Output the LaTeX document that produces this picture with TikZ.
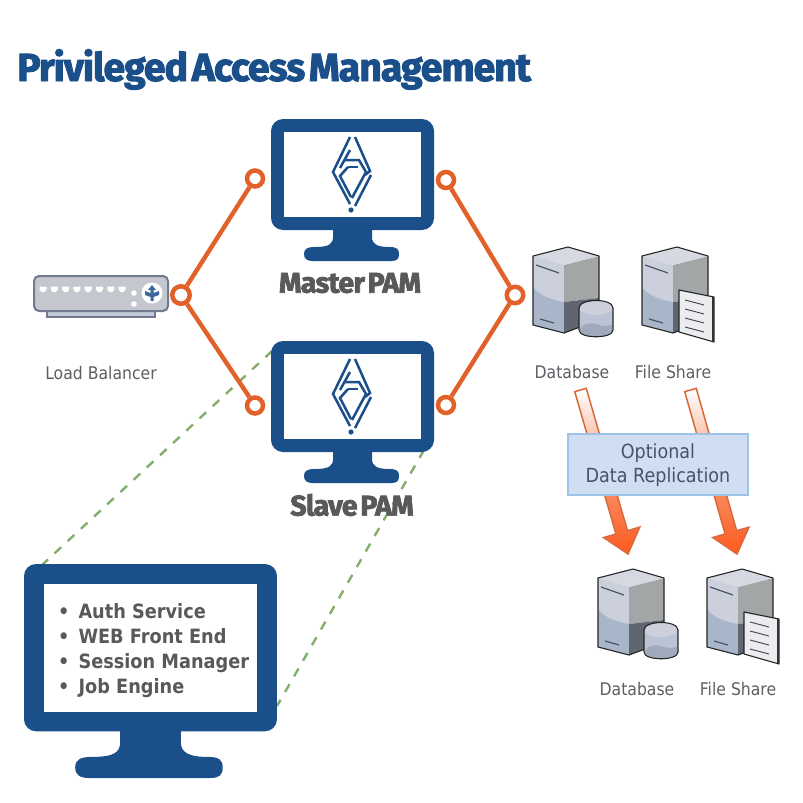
\documentclass[tikz,border=0pt]{standalone}
\usepackage{fontspec}
\usetikzlibrary{calc}
\setmainfont{DejaVu Sans}[FakeStretch=0.9]
\newfontfamily\headfont[FakeBold=2.4,LetterSpace=-2.5,WordSpace=0.45]{Fira Sans Bold}
\newfontfamily\listfont[FakeStretch=0.9]{DejaVu Sans Bold}
\definecolor{pamblue}{HTML}{1A4F8A}
\definecolor{pamorange}{HTML}{E2602A}
\definecolor{pamgreen}{HTML}{83AE6C}
\definecolor{pamgrey}{HTML}{58595B}
\definecolor{lblgrey}{HTML}{5C5F63}
\definecolor{boxfill}{HTML}{D0DEF2}
\definecolor{boxedge}{HTML}{9DC3E6}
\definecolor{boxtext}{HTML}{44546A}
\definecolor{arrowedge}{HTML}{D9683C}
\definecolor{arrowmid}{HTML}{F79A74}
\definecolor{arrowend}{HTML}{FF5A1E}
\tikzset{
  hub/.style={circle,draw=pamorange,fill=white,line width=4.5pt,inner sep=0pt,minimum size=#1},
  link/.style={draw=pamorange,line width=4.4pt},
  zoomline/.style={draw=pamgreen,line width=2.4pt,dash pattern=on 9pt off 9pt},
  lbl/.style={font=\fontsize{17.4}{19}\selectfont,text=lblgrey,inner sep=0pt},
  pamlbl/.style={font=\fontsize{28.6}{30}\headfont,text=pamgrey,inner sep=0pt},
  srvline/.style={line width=1.2pt,draw=#1},
  srvedge/.style={draw=black!85,line width=1.1pt,line join=round},
  logoline/.style={draw=pamblue,line width=2.5pt,line join=miter},
  replarrow/.style={draw=arrowedge,line width=1.5pt,line join=miter,top color=white,bottom color=arrowend,middle color=arrowmid},
}
\newcommand{\pammonitor}[4]{%
  \begin{scope}[shift={(#1,#2)},xscale=#3,yscale=#4]
    \fill[pamblue,rounded corners=12pt] (0,0) rectangle (163,111);
    \fill[pamblue] (62,108) -- (62,118) .. controls (62,125) and (58,128) .. (44,128)
      .. controls (36,128) and (33,130) .. (33,135) .. controls (33,140) and (36,142) .. (42,142)
      -- (120,142) .. controls (126,142) and (128,140) .. (128,135) .. controls (128,130) and (126,128) .. (118,128)
      .. controls (106,128) and (101,125) .. (101,118) -- (101,108) -- cycle;
    \fill[white] (13,13) rectangle (150,98);
  \end{scope}}
\newcommand{\pamlogo}[1]{%
  \begin{scope}[shift={(0,#1)}]
    \draw[logoline] (350,137) -- (333,172) -- (350,204);
    \draw[logoline] (355,206) -- (371,175);
    \draw[logoline] (355,137) -- (370,171) -- (365,175);
    \draw[logoline] (350,150) -- (340,168);
    \draw[logoline] (344,160) -- (359,160) -- (366,172) -- (352,198);
    \draw[logoline] (348,167) -- (340,176) -- (351,197);
    \draw[logoline] (348,167) -- (358,167);
    \fill[pamblue] (351,210) circle (2.6);
  \end{scope}}
\newcommand{\pamserver}[2]{%
  \begin{scope}[shift={(#1,#2)}]
    \fill[C0] (0,9) -- (31,18) -- (31,86) -- (0,78) -- cycle;
    \fill[C1] (0,9) -- (31,18) -- (31,55) .. controls (15,52) and (5,47) .. (0,40) -- cycle;
    \fill[C2] (31,18) -- (66,9) -- (66,51) -- (31,55) -- cycle;
    \fill[C3] (31,55) -- (66,51) -- (66,73) -- (31,86) -- cycle;
    \fill[C4] (35,0) -- (66,9) -- (31,18) -- (0,9) -- cycle;
    \draw[srvedge] (35,0) -- (66,9) -- (66,73) -- (31,86) -- (0,78) -- (0,9) -- cycle;
    \draw[srvline=C5] (3,18) -- (26,26);
    \draw[srvline=C5] (7,72) -- (21,76);
  \end{scope}}
\definecolor{C0}{HTML}{A9B5C9}
\definecolor{C1}{HTML}{CBD0DC}
\definecolor{C2}{HTML}{A3A6A6}
\definecolor{C3}{HTML}{5F6670}
\definecolor{C4}{HTML}{D6D9E2}
\definecolor{C5}{HTML}{4C5565}
\newcommand{\pamcylinder}[2]{%
  \begin{scope}[shift={(#1,#2)}]
    \fill[C0!80!white] (46,60) -- (46,83) .. controls (46,92) and (80,92) .. (80,83) -- (80,60) -- cycle;
    \fill[C0!80!gray] (47,82) .. controls (52,74) and (60,76) .. (66,78) .. controls (72,80) and (76,78) .. (79,78) -- (79,84) .. controls (76,91) and (50,91) .. (47,84) -- cycle;
    \fill[C1] (63,61) ellipse (17 and 7);
    \draw[srvedge] (46,61) -- (46,83) .. controls (46,92) and (80,92) .. (80,83) -- (80,61);
    \draw[srvedge] (46,61) .. controls (46,51) and (80,51) .. (80,61);
  \end{scope}}
\newcommand{\pamdoc}[2]{%
  \begin{scope}[shift={(#1,#2)}]
    \fill[C4!50!white] (37,43) -- (72,50) -- (72,95) -- (37,85) -- cycle;
    \draw[srvedge] (37,43) -- (72,50) -- (72,95) -- (37,85) -- cycle;
    \draw[line width=1.5pt,black!80] (71,50) -- (71,94);
    \foreach \k in {0,9,18,27}
      \draw[line width=.9pt,black!75] (43,53+\k) -- (62,58+\k);
  \end{scope}}
\newcommand{\pamarrow}[2]{%
  \path[replarrow] ($(#1)!6pt!90:(#2)$) -- ($($(#1)!0.868!(#2)$)!6pt!90:(#2)$) -- ($($(#1)!0.868!(#2)$)!18.8pt!90:(#2)$) -- (#2)
    -- ($($(#1)!0.868!(#2)$)!18.8pt!-90:(#2)$) -- ($($(#1)!0.868!(#2)$)!6pt!-90:(#2)$) -- ($(#1)!6pt!-90:(#2)$) -- cycle;}
\begin{document}
\begin{tikzpicture}[x=1pt,y=-1pt]
\useasboundingbox (0,0) rectangle (803,803);
\fill[white] (0,0) rectangle (803,803);

% title
\node[anchor=base west,inner sep=0pt,text=pamblue] (title) at (17,81) {\fontsize{39.2}{42}\headfont Privileged Access Management};

% dashed zoom lines
\coordinate (slaveTL) at (272,351);
\coordinate (slaveBR) at (424,450);
\coordinate (bigTL) at (42,565);
\coordinate (bigR) at (277,706);
\draw[zoomline] (slaveTL) -- (bigTL);
\draw[zoomline] (slaveBR) -- (bigR);

% monitors
\pammonitor{271}{119}{1}{1}
\pammonitor{271}{341}{1}{1}
\pammonitor{24}{564}{1.552}{1.507}
\pamlogo{0}
\pamlogo{222}
\node[pamlbl] (master) at (350,283) {Master PAM};
\node[pamlbl] (slave) at (352,505) {Slave PAM};

% monitor contents
\node[anchor=north west,align=left,inner sep=0pt,text=pamgrey,font=\fontsize{19.7}{25}\listfont] (svc) at (58,603)
  {\textbullet\hspace{9pt}Auth Service\\ \textbullet\hspace{9pt}WEB Front End\\ \textbullet\hspace{9pt}Session Manager\\ \textbullet\hspace{9pt}Job Engine};

% load balancer
\draw[draw=C5!60!C0,fill=C0!70!white,line width=1.8pt] (47,311) rectangle (155,317);
\draw[draw=C5!60!C0,fill=C4!80!gray,line width=2pt,rounded corners=5pt] (34,276) rectangle (168,311);
\foreach \i in {0,...,7}
  \fill[white] (43+\i*11.3-3.5,286.5) -- (43+\i*11.3+3.5,286.5) -- (43+\i*11.3+3.5,289.5) -- (43+\i*11.3+1.5,292) -- (43+\i*11.3-1.5,292) -- (43+\i*11.3-3.5,289.5) -- cycle;
\fill[white] (134,293) circle (2.8);
\fill[white] (134,304) circle (2.8);
\fill[white] (152,293) circle (10.5);
\fill[pamblue!85] (152,285) -- (156,290) -- (153.5,290) -- (153.5,293) -- (159,291) -- (159,295) -- (153.5,297) -- (153.5,301) -- (150.5,301) -- (150.5,297) -- (145,295) -- (145,291) -- (150.5,293) -- (150.5,290) -- (148,290) -- cycle;
\node[lbl] (lblLB) at (101,373.500) {Load Balancer};

% connectors
\node[hub=17.5pt] (hubL) at (181,295) {};
\node[hub=16pt] (mL) at (255,178.500) {};
\node[hub=16pt] (sL) at (255,405.500) {};
\node[hub=16pt] (mR) at (446,180) {};
\node[hub=16pt] (sR) at (446,405) {};
\node[hub=16.5pt] (hubR) at (515,295) {};
\draw[link] (hubL) -- (mL);
\draw[link] (hubL) -- (sL);
\draw[link] (hubR) -- (mR);
\draw[link] (hubR) -- (sR);

% storage
\pamserver{533}{247}\pamcylinder{533}{247}
\pamserver{642}{247}\pamdoc{642}{247}
\pamserver{598}{569}\pamcylinder{598}{569}
\pamserver{707}{569}\pamdoc{707}{569}
\node[lbl] (db1) at (572,372.500) {Database};
\node[lbl] (fs1) at (673,372.500) {File Share};
\node[lbl] (db2) at (637,689.500) {Database};
\node[lbl] (fs2) at (738,689.500) {File Share};

% replication arrows
\coordinate (a1) at (580.5,390);
\coordinate (b1) at (628,554);
\coordinate (a2) at (690.5,390);
\coordinate (b2) at (737,554);
\pamarrow{a1}{b1}
\pamarrow{a2}{b2}
\node[draw=boxedge,fill=boxfill,line width=1.6pt,minimum width=180pt,minimum height=61pt,inner sep=0pt] (box) at (658,464.500) {};
\node[align=center,inner sep=0pt,text=boxtext,font=\fontsize{19.5}{24}\selectfont] (boxtxt) at (658,465) {Optional\\Data Replication};
\end{tikzpicture}
\end{document}
